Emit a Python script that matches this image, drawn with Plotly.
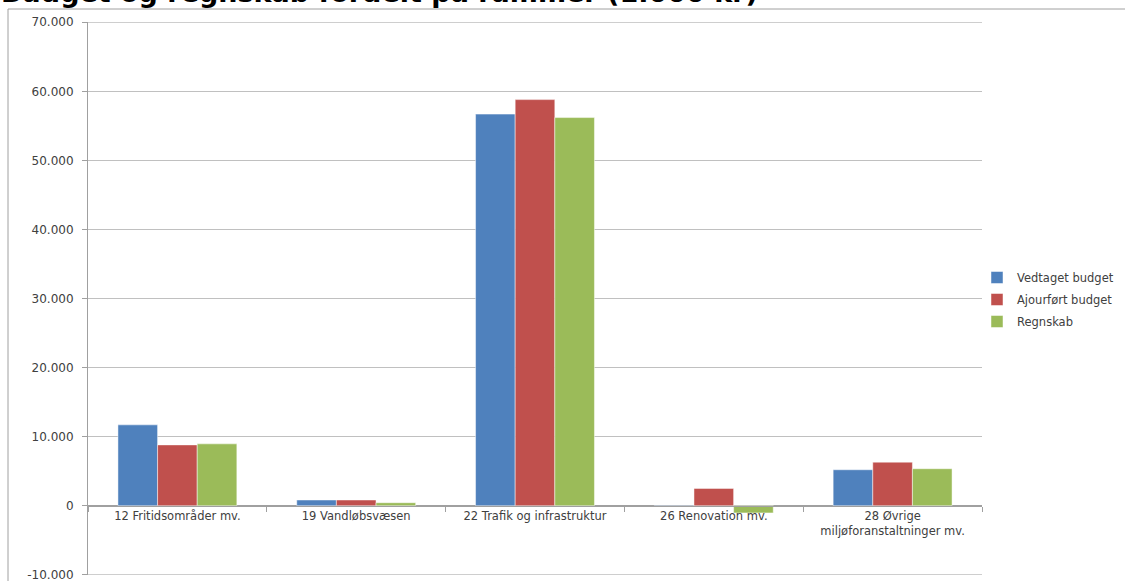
import plotly.graph_objects as go

categories = ["12 Fritidsområder mv.", "19 Vandløbsvæsen", "22 Trafik og infrastruktur",
              "26 Renovation mv.", "28 Øvrige<br>miljøforanstaltninger mv."]
series_names = ["Vedtaget budget", "Ajourført budget", "Regnskab"]
vedtaget = [11700, 820, 56700, -200, 5200]
ajourfoert = [8800, 820, 58800, 2500, 6300]
regnskab = [8950, 430, 56200, -1050, 5350]
colors = ["#4F81BD", "#C0504D", "#9BBB59"]
y_tickvals = [-10000, 0, 10000, 20000, 30000, 40000, 50000, 60000, 70000]
y_ticktext = ["-10.000", "0", "10.000", "20.000", "30.000", "40.000", "50.000", "60.000", "70.000"]
title_text = "Budget og regnskab fordelt på rammer (1.000 kr)"

W, H = 1125, 581
L, R, T, B = 88, 143, 22, 6
eps = 40
ymin, ymax = y_tickvals[0] - eps, y_tickvals[-1] + eps

fig = go.Figure()
for i, (name, vals, col) in enumerate(zip(series_names, [vedtaget, ajourfoert, regnskab], colors)):
    fig.add_trace(go.Bar(x=categories, y=vals, name=name, legendgroup="g%d" % i,
                         marker=dict(color=col, line=dict(color="rgba(255,255,255,0.6)", width=0.8))))

pw = W - L - R
ph = H - T - B
def px_x(p):
    return (p - L) / pw
def px_y(p):
    return (H - B - p) / ph

grid_color = "#C0C0C0"
edge_lines = [dict(type="line", xref="paper", yref="y", x0=0, x1=1, y0=v, y1=v,
                   line=dict(color=grid_color, width=1), layer="below")
              for v in (y_tickvals[0], y_tickvals[-1])]

fig.update_layout(
    width=W, height=H,
    margin=dict(l=L, r=R, t=T, b=B, autoexpand=False),
    paper_bgcolor="white", plot_bgcolor="white",
    barmode="group", bargap=0.335, bargroupgap=0,
    font=dict(family="DejaVu Sans", size=12, color="#404040"),
    showlegend=True,
    legend=dict(x=px_x(977), y=px_y(263), xanchor="left", yanchor="top",
                font=dict(family="DejaVu Sans", size=11.5, color="#404040"),
                bgcolor="rgba(0,0,0,0)", traceorder="grouped", tracegroupgap=3),
    xaxis=dict(anchor="free", position=(0 - ymin) / (ymax - ymin), automargin=False,
               showline=True, linecolor="#A0A0A0", linewidth=1,
               ticks="outside", tickson="boundaries", ticklen=5, tickcolor="#A0A0A0",
               showgrid=False, tickfont=dict(size=11.5, color="#404040")),
    yaxis=dict(range=[ymin, ymax], tickvals=y_tickvals, ticktext=y_ticktext, automargin=False,
               showline=True, linecolor="#A0A0A0", linewidth=1,
               ticks="outside", ticklen=5, tickcolor="#A0A0A0",
               showgrid=True, gridcolor=grid_color, gridwidth=1,
               zeroline=True, zerolinecolor="#A0A0A0", zerolinewidth=1,
               tickfont=dict(size=12, color="#404040"), ticklabelstandoff=6,
               ticklabeloverflow="allow"),
    shapes=[dict(type="rect", xref="paper", yref="paper",
                 x0=px_x(8), x1=px_x(W + 2), y0=px_y(9), y1=px_y(H + 2),
                 line=dict(color="#A0A0A0", width=1), fillcolor="rgba(0,0,0,0)", layer="below")]
           + edge_lines,
    annotations=[dict(text="<b>" + title_text + "</b>", xref="paper", yref="paper",
                      x=px_x(-1), y=px_y(-8), xanchor="left", yanchor="middle",
                      showarrow=False, font=dict(family="DejaVu Sans", size=27, color="black"))],
)
fig.write_html("out.html", config={"displayModeBar": False},
               post_script="document.body.style.margin='0';document.body.style.overflow='hidden';")
